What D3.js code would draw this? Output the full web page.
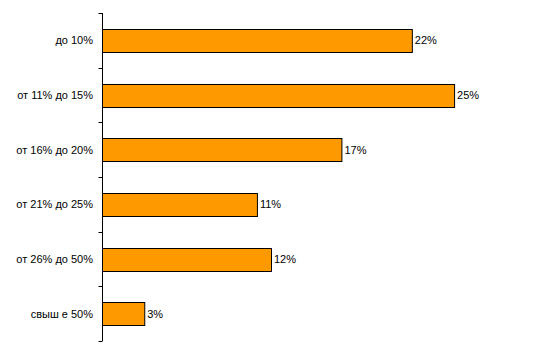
<!DOCTYPE html>
<html><head><meta charset="utf-8">
<script src="https://cdn.jsdelivr.net/npm/d3@7"></script>
<style>body{margin:0;background:#fff}svg{display:block}text{font-family:Arial,"Liberation Sans",sans-serif;font-size:11px;fill:#000}</style>
</head><body><svg id="c" width="538" height="356"></svg>
<script>
const categories = ["до 10%", "от 11% до 15%", "от 16% до 20%", "от 21% до 25%", "от 26% до 50%", "свыш е 50%"];
const values = [22, 25, 17, 11, 12, 3];
const valueLabels = ["22%", "25%", "17%", "11%", "12%", "3%"];

const svg = d3.select("#c");
const mLeft = 102.5, mTop = 13, mBottom = 341;
const x = d3.scaleLinear().domain([0, 30]).range([mLeft, mLeft + 422.5]);
const y = d3.scaleBand().domain(categories).range([mTop, mBottom]).paddingInner(0.58).paddingOuter(0.29);

const step = y.step();
svg.append("line").attr("x1", mLeft).attr("x2", mLeft).attr("y1", mTop).attr("y2", mBottom).attr("stroke", "#000");
d3.range(categories.length + 1).forEach(i => {
  const ty = Math.round(mTop + i * step) + 0.5;
  svg.append("line").attr("x1", mLeft - 4).attr("x2", mLeft).attr("y1", ty).attr("y2", ty).attr("stroke", "#000");
});

svg.selectAll("rect.bar").data(values).join("rect").attr("class", "bar")
  .attr("x", mLeft)
  .attr("y", (d, i) => Math.round(y(categories[i])) + 0.5)
  .attr("width", d => x(d) - mLeft)
  .attr("height", Math.round(y.bandwidth()))
  .attr("fill", "#FF9900").attr("stroke", "#000").attr("stroke-width", 1);

svg.selectAll("text.cat").data(categories).join("text").attr("class", "cat")
  .attr("x", 93).attr("y", d => y(d) + y.bandwidth() / 2).attr("dy", "0.35em")
  .attr("text-anchor", "end").text(d => d);

svg.selectAll("text.val").data(values).join("text").attr("class", "val")
  .attr("x", d => x(d) + 2.5).attr("y", (d, i) => y(categories[i]) + y.bandwidth() / 2).attr("dy", "0.35em")
  .text((d, i) => valueLabels[i]);
</script></body></html>
